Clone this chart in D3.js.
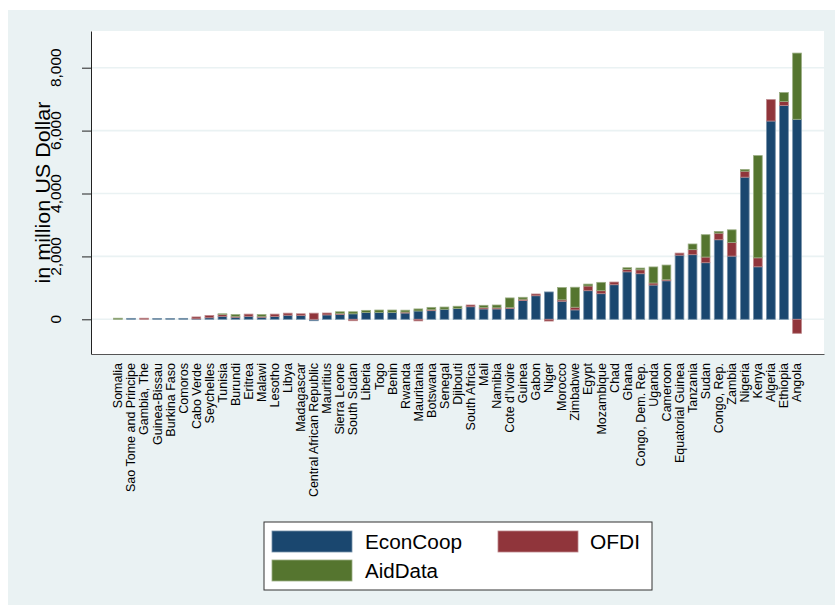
<!DOCTYPE html>
<html>
<head>
<meta charset="utf-8">
<script src="https://cdn.jsdelivr.net/npm/d3@7"></script>
<style>
  html, body { margin: 0; padding: 0; background: #ffffff; }
  svg { display: block; font-family: "Liberation Sans", Arial, Helvetica, sans-serif; }
</style>
</head>
<body>
<svg id="chart" width="835" height="613"></svg>
<script>
// ---------------- DATA ----------------
const countries = [
  "Somalia", "Sao Tome and Principe", "Gambia, The", "Guinea-Bissau", "Burkina Faso",
  "Comoros", "Cabo Verde", "Seychelles", "Tunisia", "Burundi", "Eritrea", "Malawi",
  "Lesotho", "Libya", "Madagascar", "Central African Republic", "Mauritius",
  "Sierra Leone", "South Sudan", "Liberia", "Togo", "Benin", "Rwanda", "Mauritania",
  "Botswana", "Senegal", "Djibouti", "South Africa", "Mali", "Namibia", "Cote d'Ivoire",
  "Guinea", "Gabon", "Niger", "Morocco", "Zimbabwe", "Egypt", "Mozambique", "Chad",
  "Ghana", "Congo, Dem. Rep.", "Uganda", "Cameroon", "Equatorial Guinea", "Tanzania",
  "Sudan", "Congo, Rep.", "Zambia", "Nigeria", "Kenya", "Algeria", "Ethiopia", "Angola"
];
const econCoop = [
  0, 30, 0, 25, 25, 30, 15, 50, 95, 65, 95, 65,
  90, 130, 120, -45, 140, 150, 175, 215, 220, 220, 200, 265,
  275, 320, 340, 400, 330, 330, 340, 595, 750, 870, 575, 300,
  910, 815, 1100, 1510, 1450, 1090, 1225, 2040, 2055, 1800, 2530, 2010,
  4520, 1670, 6305, 6800, 6360
];
const ofdi = [
  0, 0, 35, 0, 0, 0, 60, 70, 60, 30, 70, 30,
  75, 65, 55, 195, 60, 35, -45, 0, 0, 0, 30, -50,
  30, 0, 0, 55, 40, 35, 35, 45, 55, -55, 45, 85,
  150, 95, 85, 75, 125, 65, 35, 65, 160, 180, 210, 435,
  190, 285, 680, 125, -445
];
const aidData = [
  35, 0, 0, 0, 0, 0, 0, 0, 20, 55, 0, 55,
  0, 0, 0, 0, 0, 55, 65, 70, 75, 75, 60, 65,
  75, 70, 75, 0, 75, 90, 305, 60, 0, 0, 390, 635,
  60, 265, 0, 55, 55, 510, 465, 0, 180, 710, 55, 400,
  55, 3250, 0, 285, 2105
];
const seriesNames = ["EconCoop", "OFDI", "AidData"];
const yTickValues = [0, 2000, 4000, 6000, 8000];
const yTitle = "in million US Dollar";

// ---------------- STYLE ----------------
const colors = { EconCoop: "#1a476f", OFDI: "#90353b", AidData: "#55752f" };
const bgColor = "#eaf2f3";
const font = "'Liberation Sans', Arial, Helvetica, sans-serif";

// ---------------- BUILD ----------------
const rows = countries.map((c, i) => ({
  country: c, EconCoop: econCoop[i], OFDI: ofdi[i], AidData: aidData[i]
}));

const svg = d3.select("#chart");
const W = 835, H = 613;
const plot = { left: 91, right: 824, top: 31, bottom: 354 };

// outer graph region
svg.append("rect").attr("x", 8).attr("y", 10).attr("width", W - 8).attr("height", 595)
  .attr("fill", bgColor);
// plot region
svg.append("rect").attr("x", plot.left).attr("y", plot.top)
  .attr("width", plot.right - plot.left).attr("height", plot.bottom - plot.top)
  .attr("fill", "#ffffff");

const x = d3.scaleBand().domain(countries)
  .range([plot.left, plot.right])
  .paddingInner(0.33).paddingOuter(1.73);

const y = d3.scaleLinear().domain([-1103, 9167]).range([plot.bottom, plot.top]);

// gridlines
svg.append("g").selectAll("line").data(yTickValues).join("line")
  .attr("x1", plot.left).attr("x2", plot.right)
  .attr("y1", d => y(d)).attr("y2", d => y(d))
  .attr("stroke", bgColor).attr("stroke-width", 1.6);

// stacked bars
const stack = d3.stack().keys(seriesNames).offset(d3.stackOffsetDiverging);
const layers = stack(rows);

svg.append("g").selectAll("g").data(layers).join("g")
  .attr("fill", d => colors[d.key])
  .attr("stroke", d => d3.interpolateRgb(colors[d.key], "#ffffff")(0.4))
  .attr("stroke-width", 0.8)
  .selectAll("rect").data(d => d.filter(p => p[1] - p[0] !== 0)).join("rect")
    .attr("x", d => x(d.data.country))
    .attr("width", x.bandwidth())
    .attr("y", d => y(Math.max(d[0], d[1])))
    .attr("height", d => Math.abs(y(d[0]) - y(d[1])));

// y axis (ticks + line)
const yAxis = svg.append("g").attr("transform", `translate(${plot.left},0)`)
  .call(d3.axisLeft(y).tickValues(yTickValues).tickSizeInner(9).tickSizeOuter(0)
    .tickFormat(d3.format(",")));
yAxis.select(".domain").attr("stroke", "#222").attr("stroke-width", 1);
yAxis.selectAll(".tick line").attr("stroke", "#222").attr("stroke-width", 1);
yAxis.selectAll(".tick text").remove();

// y tick labels, rotated, centred at x = 56
svg.append("g").selectAll("text").data(yTickValues).join("text")
  .attr("transform", d => `rotate(-90, 56, ${y(d)})`)
  .attr("x", 56).attr("y", d => y(d) + 5.4)
  .attr("text-anchor", "middle")
  .attr("font-size", 15.5).attr("font-family", font).attr("fill", "#000")
  .text(d => d3.format(",")(d));

// y title
const ty = (plot.top + plot.bottom) / 2;
svg.append("text")
  .attr("transform", `rotate(-90, 43, ${ty})`)
  .attr("x", 43).attr("y", ty + 7)
  .attr("text-anchor", "middle")
  .attr("font-size", 20).attr("font-family", font).attr("fill", "#000")
  .attr("textLength", 182).attr("lengthAdjust", "spacingAndGlyphs")
  .text(yTitle);

// x axis
const xAxis = svg.append("g").attr("transform", `translate(0,${plot.bottom})`)
  .call(d3.axisBottom(x).tickSizeInner(0).tickSizeOuter(0));
xAxis.select(".domain").attr("stroke", "#555").attr("stroke-width", 1.2);
xAxis.selectAll(".tick text")
  .attr("x", -9).attr("y", 0).attr("dy", "0.35em")
  .attr("text-anchor", "end")
  .attr("transform", "rotate(-90)")
  .attr("font-size", 12.5).attr("font-family", font).attr("fill", "#000");

// legend
const lg = svg.append("g");
lg.append("rect").attr("x", 264).attr("y", 522).attr("width", 388).attr("height", 68)
  .attr("fill", "#fff").attr("stroke", "#333").attr("stroke-width", 1);
const legendItems = [
  { key: "EconCoop", sx: 272, sy: 531, tx: 365, len: 97 },
  { key: "OFDI", sx: 498, sy: 531, tx: 590, len: 50 },
  { key: "AidData", sx: 272, sy: 560, tx: 365, len: 73 }
];
legendItems.forEach(it => {
  lg.append("rect").attr("x", it.sx).attr("y", it.sy).attr("width", 80).attr("height", 21)
    .attr("fill", colors[it.key])
    .attr("stroke", d3.interpolateRgb(colors[it.key], "#ffffff")(0.4)).attr("stroke-width", 0.8);
  lg.append("text").attr("x", it.tx).attr("y", it.sy + 10.5).attr("dy", "0.36em")
    .attr("font-size", 19.5).attr("font-family", font).attr("fill", "#000")
    .attr("textLength", it.len).attr("lengthAdjust", "spacingAndGlyphs")
    .text(it.key);
});
</script>
</body>
</html>
